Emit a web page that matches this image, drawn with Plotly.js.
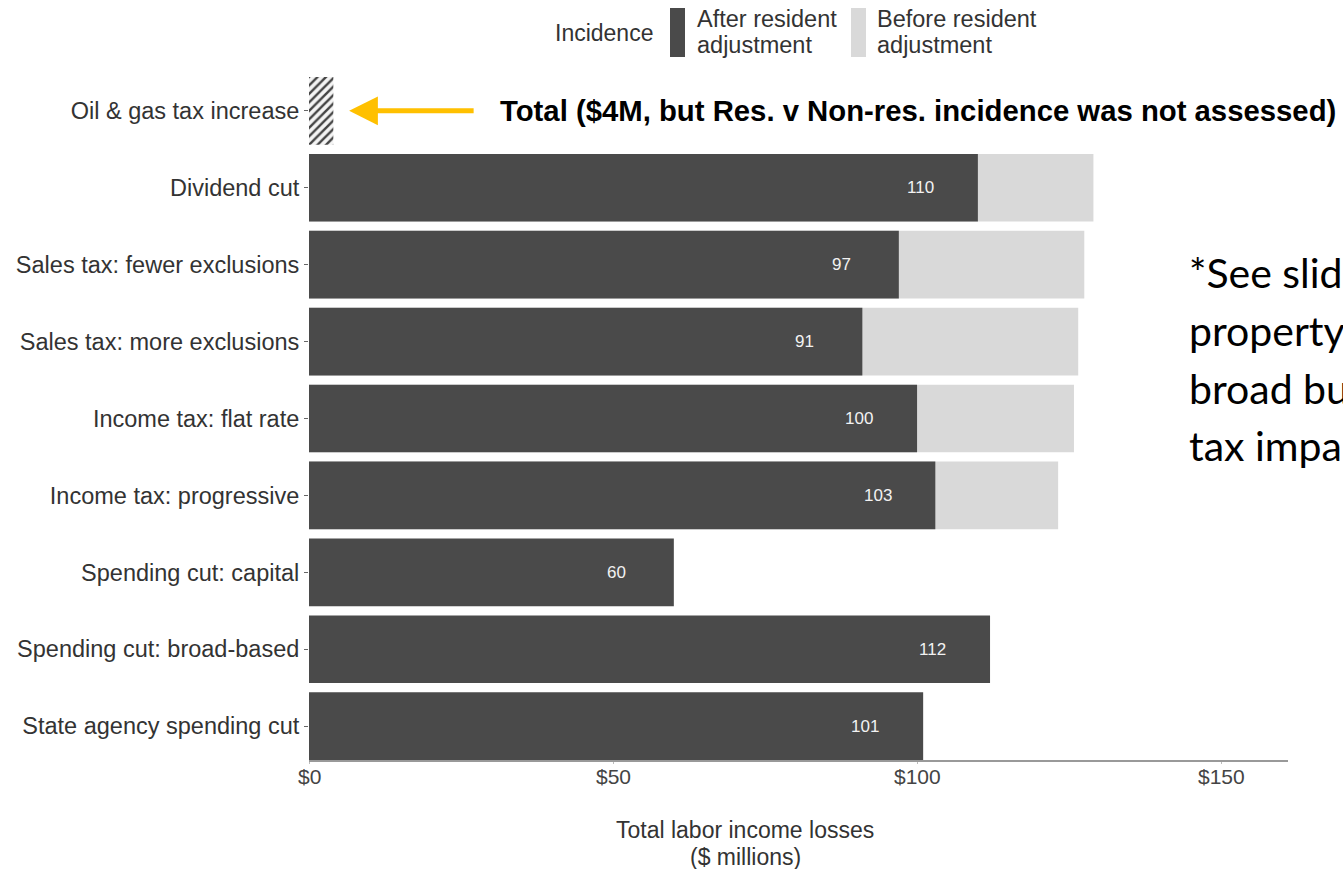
<!DOCTYPE html>
<html>
<head>
<meta charset="utf-8">
<script src="https://cdn.plot.ly/plotly-3.0.1.min.js"></script>
<style>html,body{margin:0;padding:0;background:#fff;}#chart{width:1343px;height:869px;}</style>
</head>
<body>
<div id="chart"></div>
<script>
const categories = [
  "Oil & gas tax increase",
  "Dividend cut",
  "Sales tax: fewer exclusions",
  "Sales tax: more exclusions",
  "Income tax: flat rate",
  "Income tax: progressive",
  "Spending cut: capital",
  "Spending cut: broad-based",
  "State agency spending cut"
];
const afterAdj = [null, 110, 97, 91, 100, 103, 60, 112, 101];
const beforeAdj = [null, 129, 127.5, 126.5, 125.8, 123.2, null, null, null];
const oilTotal = [4];
const oilCategory = ["Oil & gas tax increase"];
const xTickVals = [0, 50, 100, 150];
const xTickText = ["$0", "$50", "$100", "$150"];
const legendTitle = "Incidence";
const legendNames = [["After resident", "adjustment"], ["Before resident", "adjustment"]];
const xTitleLines = ["Total labor income losses", "($ millions)"];
const noteText = "Total ($4M, but Res. v Non-res. incidence was not assessed)";
const sideNote = ["*See slides for", "property tax and", "broad business", "tax impacts"];

const DARK = "#4a4a4a", LIGHT = "#d9d9d9";
const FONT = "Liberation Sans, Arial, Helvetica, sans-serif";
const L = 309, R = 55, T = 77, B = 109, W = 1343, H = 869;
const pw = W - L - R, ph = H - T - B;
const px = v => (v - L) / pw;
const py = v => (H - B - v) / ph;

const traces = [
  {type: "bar", orientation: "h", y: categories, x: beforeAdj, width: 0.88,
   marker: {color: LIGHT}, hoverinfo: "skip", showlegend: false},
  {type: "bar", orientation: "h", y: categories, x: afterAdj, width: 0.88,
   marker: {color: DARK}, hoverinfo: "skip", showlegend: false},
  {type: "bar", orientation: "h", y: oilCategory, x: oilTotal, width: 0.88,
   marker: {color: "#ffffff", pattern: {shape: "/", fgcolor: "#444", bgcolor: "#f4f4f4", size: 6, solidity: 0.4}},
   hoverinfo: "skip", showlegend: false}
];

function paperText(text, x, y, size, anchor, color, family) {
  return {x: px(x), y: py(y), xref: "paper", yref: "paper", xanchor: anchor || "center",
    yanchor: "middle", text: text, showarrow: false,
    font: {family: family || FONT, size: size, color: color || "#333"}};
}

const annotations = [];
categories.forEach((c, i) => {
  if (afterAdj[i] != null) {
    annotations.push({x: afterAdj[i] - 9.5, y: c, xref: "x", yref: "y", text: String(afterAdj[i]),
      showarrow: false, font: {family: FONT, size: 17, color: "#f2f2f2"}});
  }
});
// x tick labels
xTickVals.forEach((v, i) => {
  annotations.push({x: v, y: py(776), xref: "x", yref: "paper", xanchor: "center", yanchor: "middle",
    text: xTickText[i], showarrow: false, font: {family: FONT, size: 21, color: "#444"}});
});
// arrow
annotations.push({x: 6.6, y: oilCategory[0], xref: "x", yref: "y", text: "", showarrow: true,
  ax: 126, ay: 0, arrowhead: 2, arrowwidth: 5, arrowsize: 1.15, arrowcolor: "#FFC000", standoff: 0});
annotations.push(paperText("<b>" + noteText + "</b>", 498, 111, 29.3, "left", "#000"));
// side note
const sideY = [272, 330, 388, 446];
sideNote.forEach((t, i) => {
  annotations.push(paperText(t, 1187, sideY[i], 41, "left", "#000", "Lato, Open Sans, sans-serif"));
});
// x title
annotations.push(paperText(xTitleLines[0], 745, 830, 23, "center", "#333"));
annotations.push(paperText(xTitleLines[1], 745, 857, 23, "center", "#333"));
// legend
annotations.push(paperText(legendTitle, 655, 33, 23, "right", "#333"));
annotations.push(paperText(legendNames[0][0], 695, 19, 23.5, "left", "#333"));
annotations.push(paperText(legendNames[0][1], 695, 45, 23.5, "left", "#333"));
annotations.push(paperText(legendNames[1][0], 875, 19, 23.5, "left", "#333"));
annotations.push(paperText(legendNames[1][1], 875, 45, 23.5, "left", "#333"));

const shapes = [
  {type: "rect", xref: "paper", yref: "paper", x0: px(670), x1: px(685), y0: py(57), y1: py(8), fillcolor: DARK, line: {width: 0}},
  {type: "rect", xref: "paper", yref: "paper", x0: px(851), x1: px(866), y0: py(57), y1: py(8), fillcolor: LIGHT, line: {width: 0}}
];

const layout = {
  width: W, height: H,
  margin: {l: L, r: R, t: T, b: B, pad: 0},
  paper_bgcolor: "#fff", plot_bgcolor: "#fff",
  barmode: "overlay",
  showlegend: false,
  xaxis: {range: [0, 161], tickvals: xTickVals, showticklabels: false, showgrid: false, zeroline: false,
    showline: true, linecolor: "#999", linewidth: 2, ticks: "outside", ticklen: 2, tickcolor: "#bbb",
    fixedrange: true},
  yaxis: {type: "category", range: [8.44, -0.44], showgrid: false, zeroline: false, showline: false,
    ticks: "outside", ticklen: 4, tickcolor: "#666",
    tickfont: {family: FONT, size: 23.5, color: "#333"}, fixedrange: true},
  annotations: annotations,
  shapes: shapes
};

Plotly.newPlot("chart", traces, layout, {displayModeBar: false, staticPlot: true});
</script>
</body>
</html>
